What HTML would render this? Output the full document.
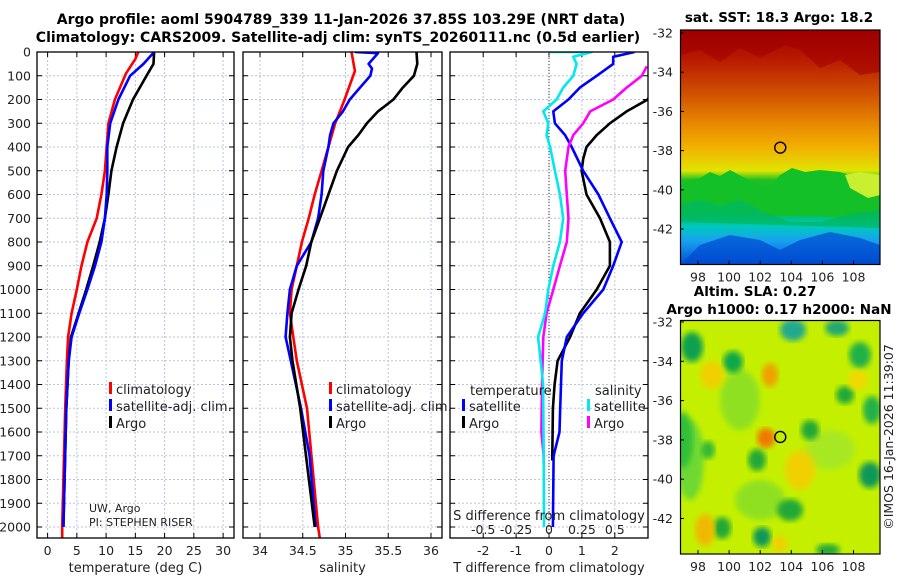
<!DOCTYPE html>
<html><head><meta charset="utf-8">
<style>
html,body{margin:0;padding:0;background:#fff;}
svg{display:block;font-family:"DejaVu Sans","Liberation Sans",sans-serif;}
</style></head>
<body>
<svg id="fig" width="900" height="580" viewBox="0 0 900 580" xmlns="http://www.w3.org/2000/svg">
<defs>
 <clipPath id="c1"><rect x="37" y="52" width="197" height="486"/></clipPath>
 <clipPath id="c2"><rect x="243" y="52" width="199" height="486"/></clipPath>
 <clipPath id="c3"><rect x="450" y="52" width="198" height="486"/></clipPath>
 <clipPath id="cm1"><rect x="680.5" y="30" width="199.5" height="234.5"/></clipPath>
 <clipPath id="cm2"><rect x="680.5" y="320.5" width="199.5" height="233.5"/></clipPath>
 <linearGradient id="sstg" x1="0" y1="30" x2="0" y2="264.5" gradientUnits="userSpaceOnUse">
  <stop offset="0" stop-color="#a00000"/>
  <stop offset="0.12" stop-color="#b81800"/>
  <stop offset="0.27" stop-color="#d05000"/>
  <stop offset="0.4" stop-color="#e88800"/>
  <stop offset="0.5" stop-color="#f2b000"/>
  <stop offset="0.6" stop-color="#e0e400"/>
  <stop offset="0.64" stop-color="#20c020"/>
  <stop offset="0.76" stop-color="#00b850"/>
  <stop offset="0.84" stop-color="#00c8c0"/>
  <stop offset="0.9" stop-color="#18a0f0"/>
  <stop offset="1" stop-color="#0050d0"/>
 </linearGradient>
 <filter id="blur4"><feGaussianBlur stdDeviation="3"/></filter>
</defs>
<g id="root"></g>
</svg>
<script>
// ---------- data ----------
const depthTicks = [0,100,200,300,400,500,600,700,800,900,1000,1100,1200,1300,1400,1500,1600,1700,1800,1900,2000];
const tempTicks = [0,5,10,15,20,25,30];
const salTicks = [34,34.5,35,35.5,36];
const salTickLabels = ["34","34.5","35","35.5","36"];
const tdiffTicks = [-2,-1,0,1,2];
const sdiffTicks = [-0.5,-0.25,0,0.25,0.5];
const sdiffTickLabels = ["-0.5","-0.25","0","0.25","0.5"];

const climTempDepth = [0,30,90,200,300,500,600,700,800,900,1000,1100,1200,1300,1500,2000,2050];
const climTemp      = [15.5,15,13.4,11.5,10.4,9.8,9.2,8.4,6.8,5.8,5.0,4.1,3.5,3.3,3.0,2.5,2.5];
const satTempDepth  = [0,50,100,200,300,400,500,600,700,800,900,1000,1100,1200,1300,1500,2000];
const satTemp       = [18.2,16.4,14.1,12.1,10.7,10.2,10.2,10.1,9.8,9.2,8.1,6.8,5.4,4.1,3.6,3.2,2.7];
const argoTempDepth = [0,50,100,200,300,400,500,600,700,800,900,1000,1100,1200,1300,1500,2000];
const argoTemp      = [18.2,18.1,16.9,14.6,12.9,11.8,10.9,10.4,9.8,8.9,7.8,6.6,5.3,4.0,3.6,3.2,2.7];

const climSalDepth = [0,80,200,300,400,500,600,700,800,900,1000,1100,1200,1300,1500,2000,2050];
const climSal      = [35.07,35.11,34.99,34.88,34.80,34.72,34.64,34.57,34.49,34.43,34.37,34.35,34.39,34.43,34.55,34.68,34.70];
const satSalDepth  = [0,5,50,70,100,150,200,250,300,350,400,500,600,700,800,900,1000,1100,1200,1300,1500,1700,2000];
const satSal       = [35.11,35.38,35.27,35.31,35.29,35.17,35.05,34.97,34.86,34.82,34.80,34.74,34.72,34.68,34.60,34.43,34.35,34.32,34.30,34.36,34.48,34.58,34.65];
const argoSalDepth = [0,50,100,150,200,250,300,350,400,500,600,700,800,900,1000,1100,1200,1300,1500,2000];
const argoSal      = [35.83,35.84,35.80,35.67,35.56,35.38,35.25,35.15,35.03,34.90,34.80,34.70,34.60,34.54,34.45,34.37,34.35,34.38,34.47,34.64];

const satSdiffDepth = [0,0,20,50,100,150,200,250,300,350,400,500,600,700,800,900,1000,1100,1200,1300,1400,1700,2000];
const satSdiff      = [0.0,0.325,0.185,0.21,0.185,0.108,0.058,-0.043,-0.005,-0.018,0.008,0.045,0.083,0.108,0.083,0.033,-0.005,-0.03,-0.083,-0.063,-0.045,-0.04,-0.038];
const argoSdiffDepth = [60,100,150,200,250,300,350,400,500,600,700,800,900,1000,1100,1200,1400,1600,1700,1730];
const argoSdiff      = [0.743,0.705,0.59,0.488,0.313,0.26,0.185,0.148,0.123,0.135,0.148,0.135,0.083,0.033,-0.018,-0.043,-0.053,-0.058,-0.04,-0.04];
const satTdiffDepth = [0,20,50,100,150,200,250,300,350,400,500,600,700,800,900,1000,1100,1200,1300,1500,1600,1700,2000];
const satTdiff      = [2.6,1.95,1.95,1.45,0.94,0.59,0.13,0.18,0.49,0.69,1.04,1.50,1.85,2.21,1.95,1.65,1.04,0.54,0.39,0.34,0.32,0.14,0.12];
const argoTdiffDepth = [0,100,200,250,300,350,400,450,500,600,700,800,900,1000,1100,1200,1300,1400,1500,1700,1720];
const argoTdiff      = [3.5,3.4,3.0,2.36,1.85,1.45,1.14,1.04,0.99,1.14,1.55,1.85,1.85,1.45,0.94,0.64,0.26,0.17,0.12,0.10,0.10];

const latTicks = [-32,-34,-36,-38,-40,-42];
const lonTicks = [98,100,102,104,106,108];
const floatLon = 103.29, floatLat = -37.85;

// ---------- helpers ----------
const NS = "http://www.w3.org/2000/svg";
const root = document.getElementById('root');
function mk(tag, attrs, parent, txt){
  const e = document.createElementNS(NS, tag);
  for (const k in attrs) e.setAttribute(k, attrs[k]);
  if (txt !== undefined) e.textContent = txt;
  (parent||root).appendChild(e);
  return e;
}
const Y = d => 52 + d*0.2375;
const X1 = t => 47.6 + t*5.85;
const X2 = s => 260 + (s-34)*85.5;
const X3 = t => 549 + t*32.9;
const XS = s => X3(s*4);

const panels = [
  {x:37,w:197,clip:'c1',name:'temperature-panel',ticks:tempTicks,labels:tempTicks.map(String),sx:X1,title:'temperature (deg C)'},
  {x:243,w:199,clip:'c2',name:'salinity-panel',ticks:salTicks,labels:salTickLabels,sx:X2,title:'salinity'},
  {x:450,w:198,clip:'c3',name:'difference-panel',ticks:tdiffTicks,labels:tdiffTicks.map(String),sx:X3,title:'T difference from climatology'}
];
const gridCol = "#b9c3e6";
panels.forEach((p,pi)=>{
  const g = mk('g',{});
  
  
  depthTicks.forEach(d=>{
    const ln = mk('line',{x1:p.x,x2:p.x+p.w,y1:Y(d),y2:Y(d),stroke:gridCol,'stroke-width':1,'stroke-dasharray':'2,2'},g);
    
    
    mk('line',{x1:p.x,x2:p.x+5,y1:Y(d),y2:Y(d),stroke:'#000'},g);
    mk('line',{x1:p.x+p.w-5,x2:p.x+p.w,y1:Y(d),y2:Y(d),stroke:'#000'},g);
  });
  p.ticks.forEach((t,i)=>{
    const x = p.sx(t);
    const ln = mk('line',{x1:x,x2:x,y1:52,y2:538,stroke:gridCol,'stroke-width':1,'stroke-dasharray':'2,2'},g);
    
    
    mk('line',{x1:x,x2:x,y1:533,y2:538,stroke:'#000'},g);
    mk('line',{x1:x,x2:x,y1:52,y2:57,stroke:'#000'},g);
    const tl = mk('text',{x:x,y:555,'font-size':12.5,'text-anchor':'middle',fill:'#222'},g,p.labels[i]);
    
    
  });
  const at = mk('text',{x:p.x+p.w/2,y:572,'font-size':13,'text-anchor':'middle',fill:'#222'},g,p.title);
  
  
});
const zl = mk('line',{x1:X3(0),x2:X3(0),y1:52,y2:538,stroke:'#333','stroke-width':1,'stroke-dasharray':'1,2'});


depthTicks.forEach(d=>{
  const t = mk('text',{x:31,y:Y(d)+4.5,'font-size':12.5,'text-anchor':'end',fill:'#222'},root,String(d));
  
  
});

function series(depths, vals, sx, clip, color, name, w){
  const pts = depths.map((d,i)=>sx(vals[i]).toFixed(1)+','+Y(d).toFixed(1)).join(' ');
  const pl = mk('polyline',{points:pts,fill:'none',stroke:color,'stroke-width':w||2.6,'stroke-linejoin':'round','clip-path':'url(#'+clip+')'});
  
  
}
series(climTempDepth, climTemp, X1, 'c1', '#ff0000', 'climatology-temperature-line');
series(argoTempDepth, argoTemp, X1, 'c1', '#000000', 'argo-temperature-line');
series(satTempDepth, satTemp, X1, 'c1', '#0000ff', 'satellite-temperature-line');
series(climSalDepth, climSal, X2, 'c2', '#ff0000', 'climatology-salinity-line');
series(satSalDepth, satSal, X2, 'c2', '#0000ff', 'satellite-salinity-line');
series(argoSalDepth, argoSal, X2, 'c2', '#000000', 'argo-salinity-line');
series(argoTdiffDepth, argoTdiff, X3, 'c3', '#000000', 'argo-t-diff-line');
series(satTdiffDepth, satTdiff, X3, 'c3', '#0000ff', 'satellite-t-diff-line');
series(argoSdiffDepth, argoSdiff, XS, 'c3', '#ff00ff', 'argo-s-diff-line');
series(satSdiffDepth, satSdiff, XS, 'c3', '#00e8f0', 'satellite-s-diff-line');

panels.forEach(p=>{
  const r = mk('rect',{x:p.x,y:52,width:p.w,height:486,fill:'none',stroke:'#000','stroke-width':1.3});
  
  
});

const sdt = mk('text',{x:549,y:520,'font-size':13,'text-anchor':'middle',fill:'#222'},root,'S difference from climatology');


sdiffTicks.forEach((s,i)=>{
  const t = mk('text',{x:XS(s),y:534,'font-size':12.5,'text-anchor':'middle',fill:'#222'},root,sdiffTickLabels[i]);
  
  
});

function legend(x,y,color,label,name){
  const g = mk('g',{});
  
  
  mk('rect',{x:x,y:y-9,width:3,height:12,fill:color},g);
  mk('text',{x:x+7,y:y+3,'font-size':13,fill:'#222'},g,label);
}
legend(109,391,'#ff0000','climatology','legend-climatology');
legend(109,408,'#0000ff','satellite-adj. clim.','legend-satellite-adj');
legend(109,425,'#000000','Argo','legend-argo');
legend(329,391,'#ff0000','climatology','legend-climatology-sal');
legend(329,408,'#0000ff','satellite-adj. clim.','legend-satellite-adj-sal');
legend(329,425,'#000000','Argo','legend-argo-sal');
const lt1 = mk('text',{x:470,y:395,'font-size':13,fill:'#222'},root,'temperature');
 
const lt2 = mk('text',{x:595,y:395,'font-size':13,fill:'#222'},root,'salinity');
 
legend(462,408,'#0000ff','satellite','legend-t-satellite');
legend(462,425,'#000000','Argo','legend-t-argo');
legend(587,408,'#00e8f0','satellite','legend-s-satellite');
legend(587,425,'#ff00ff','Argo','legend-s-argo');
const pi1 = mk('text',{x:89,y:512,'font-size':11,fill:'#222'},root,'UW, Argo');
 
const pi2 = mk('text',{x:89,y:526,'font-size':11,fill:'#222'},root,'PI: STEPHEN RISER');
 

const t1 = mk('text',{x:341,y:24,'font-size':14,'font-weight':'bold','text-anchor':'middle',fill:'#000'},root,'Argo profile: aoml 5904789_339 11-Jan-2026 37.85S 103.29E (NRT data)');
 
const t2 = mk('text',{x:338,y:42,'font-size':14,'font-weight':'bold','text-anchor':'middle',fill:'#000'},root,'Climatology: CARS2009. Satellite-adj clim: synTS_20260111.nc (0.5d earlier)');
 

// ---------- maps ----------
function mapAxes(top, bottom, lat32y, lat42y, name){
  const ly = lat => lat32y + (-32-lat)*((lat42y-lat32y)/10);
  const lx = lon => 698 + (lon-98)*15.55;
  latTicks.forEach(l=>{
    mk('line',{x1:680.5,x2:684,y1:ly(l),y2:ly(l),stroke:'#000'});
    const t = mk('text',{x:673,y:ly(l)+4.5,'font-size':12.5,'text-anchor':'end',fill:'#222'},root,String(l));
     
  });
  lonTicks.forEach(l=>{
    mk('line',{x1:lx(l),x2:lx(l),y1:bottom,y2:bottom-4,stroke:'#000'});
    const t = mk('text',{x:lx(l),y:bottom+17,'font-size':12.5,'text-anchor':'middle',fill:'#222'},root,String(l));
     
  });
  const c = mk('circle',{cx:lx(floatLon),cy:ly(floatLat),r:5.5,fill:'none',stroke:'#000','stroke-width':1.4});
   
  const fr = mk('rect',{x:680.5,y:top,width:199.5,height:bottom-top,fill:'none',stroke:'#000','stroke-width':1.2});
   
}
const m1 = mk('g',{'clip-path':'url(#cm1)'});
 
mk('rect',{x:680,y:30,width:200,height:235,fill:'url(#sstg)'},m1);
mk('path',{d:'M680,55 L700,50 L720,62 L740,48 L760,58 L785,45 L800,50 L820,68 L840,60 L860,75 L880,72 L880,30 L680,30Z',fill:'#a00000',opacity:0.6},m1);
mk('path',{d:'M680,185 L690,180 L700,178 L710,172 L720,176 L730,170 L745,178 L760,185 L772,185 L780,175 L792,168 L805,172 L820,170 L840,172 L860,178 L870,188 L880,186 L880,218 L680,214Z',fill:'#14c028'},m1);
mk('path',{d:'M845,175 L860,172 L880,175 L880,195 L868,198 L850,188Z',fill:'#c8f030'},m1);
mk('path',{d:'M680,205 L700,200 L720,206 L740,200 L760,210 L790,222 L820,222 L850,214 L880,210 L880,228 L680,222Z',fill:'#00b860',opacity:0.8},m1);
mk('path',{d:'M700,245 L730,235 L760,240 L780,250 L800,240 L830,232 L860,238 L880,245 L880,265 L680,265Z',fill:'#0048d0',opacity:0.7},m1);
const m2 = mk('g',{'clip-path':'url(#cm2)'});
 
mk('rect',{x:680,y:320,width:200,height:235,fill:'#c4f000'},m2);
const blobs = [
 [740,400,20,30,'#90e020'],[760,500,25,20,'#90e020'],[830,450,25,20,'#a8e820'],[690,460,14,40,'#70d830'],
 [692,347,11,15,'#10a050'],[733,362,10,11,'#10a848'],[793,330,13,11,'#20a890'],[837,328,12,8,'#20a870'],
 [860,355,11,13,'#20b048'],[845,395,9,9,'#20a838'],[810,430,9,10,'#20a838'],[872,410,9,14,'#20b048'],
 [683,440,10,28,'#30c038'],[708,450,7,9,'#30b838'],[757,460,9,11,'#20a838'],[870,475,11,13,'#109858'],
 [790,510,13,11,'#20a838'],[722,528,9,11,'#20a838'],[762,537,9,10,'#109858'],[828,550,12,6,'#20a838'],
 [770,375,8,12,'#f0a000'],[766,438,9,10,'#f07800'],[712,375,12,14,'#f0d000'],[800,470,15,20,'#f0d000'],
 [705,530,10,16,'#f0b800'],[858,380,10,10,'#f0d800'],[780,544,8,8,'#f0d000']
];
blobs.forEach(b=>mk('ellipse',{cx:b[0],cy:b[1],rx:b[2],ry:b[3],fill:b[4],filter:'url(#blur4)'},m2));

mapAxes(30,264.5,33,229,'sst-map');
mapAxes(320.5,554,322,518.5,'sla-map');
const mt1 = mk('text',{x:779,y:22,'font-size':13.5,'font-weight':'bold','text-anchor':'middle',fill:'#000'},root,'sat. SST: 18.3 Argo: 18.2');
 
const mt2 = mk('text',{x:755,y:296,'font-size':13.5,'font-weight':'bold','text-anchor':'middle',fill:'#000'},root,'Altim. SLA: 0.27');
 
const mt3 = mk('text',{x:779,y:314,'font-size':13.5,'font-weight':'bold','text-anchor':'middle',fill:'#000'},root,'Argo h1000: 0.17 h2000: NaN');
 
const cp = mk('text',{x:0,y:0,'font-size':12.5,'text-anchor':'middle',fill:'#222',transform:'translate(893,437) rotate(-90)'},root,'©IMOS 16-Jan-2026 11:39:07');
 
</script>
</body></html>
